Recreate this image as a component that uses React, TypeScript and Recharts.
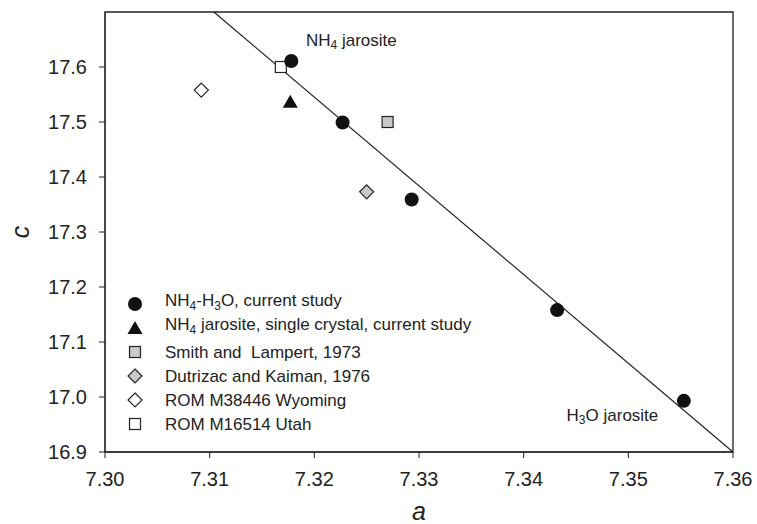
import React from "react";
import {
  ScatterChart,
  Scatter,
  XAxis,
  YAxis,
  ReferenceArea,
  ReferenceDot,
} from "recharts";

// lattice parameters (a, c in Å)
const nh4H3o = [
  { a: 7.3178, c: 17.611 },
  { a: 7.3227, c: 17.499 },
  { a: 7.3293, c: 17.359 },
  { a: 7.3432, c: 17.158 },
  { a: 7.3553, c: 16.993 },
];
const nh4Single = [{ a: 7.3177, c: 17.537 }];
const smithLampert = [{ a: 7.327, c: 17.5 }];
const dutrizacKaiman = [{ a: 7.325, c: 17.373 }];
const romWyoming = [{ a: 7.3092, c: 17.558 }];
const romUtah = [{ a: 7.3168, c: 17.6 }];
const fitLine = [
  { a: 7.3104, c: 17.7 },
  { a: 7.36, c: 16.9 },
];

const xTicks = [7.3, 7.31, 7.32, 7.33, 7.34, 7.35, 7.36];
const yTicks = [16.9, 17.0, 17.1, 17.2, 17.3, 17.4, 17.5, 17.6];

const FONT = '"Liberation Sans", Arial, sans-serif';
const INK = "#222";

type Kind = "circle" | "triangle" | "squareGray" | "diamondGray" | "diamond" | "square";

function Marker({ kind, cx, cy }: { kind: Kind; cx: number; cy: number }) {
  if (kind === "circle") return <circle cx={cx} cy={cy} r={7} fill="#111" />;
  if (kind === "triangle")
    return <polygon points={`${cx},${cy - 7} ${cx + 7.5},${cy + 6} ${cx - 7.5},${cy + 6}`} fill="#111" />;
  if (kind === "squareGray" || kind === "square")
    return (
      <rect x={cx - 5.5} y={cy - 5.5} width={11} height={11}
        fill={kind === "square" ? "#fff" : "#c8c8c8"} stroke={INK} strokeWidth={1.2} />
    );
  return (
    <polygon points={`${cx},${cy - 7} ${cx + 7},${cy} ${cx},${cy + 7} ${cx - 7},${cy}`}
      fill={kind === "diamond" ? "#fff" : "#c8c8c8"} stroke={INK} strokeWidth={1.2} />
  );
}

const legendRows: { kind: Kind; label: React.ReactNode }[] = [
  { kind: "circle", label: <>NH<sub style={{ fontSize: 12 }}>4</sub>-H<sub style={{ fontSize: 12 }}>3</sub>O, current study</> },
  { kind: "triangle", label: <>NH<sub style={{ fontSize: 12 }}>4</sub> jarosite, single crystal, current study</> },
  { kind: "squareGray", label: "Smith and  Lampert, 1973" },
  { kind: "diamondGray", label: "Dutrizac and Kaiman, 1976" },
  { kind: "diamond", label: "ROM M38446 Wyoming" },
  { kind: "square", label: "ROM M16514 Utah" },
];

function LegendBox() {
  return (
    <div style={{ position: "absolute", left: 125, top: 292, fontFamily: FONT, fontSize: 17, color: INK }}>
      {legendRows.map((r, i) => (
        <div key={i} style={{ display: "flex", alignItems: "center", height: 24, whiteSpace: "pre" }}>
          <svg width={20} height={20} style={{ marginRight: 20 }}>
            <Marker kind={r.kind} cx={10} cy={10} />
          </svg>
          <span style={{ lineHeight: "17px" }}>{r.label}</span>
        </div>
      ))}
    </div>
  );
}

const shapeOf = (kind: Kind) => (p: any) => <Marker kind={kind} cx={p.cx} cy={p.cy} />;

export default function App() {
  return (
    <div style={{ position: "absolute", left: 0, top: 0, width: 757, height: 524, background: "#fff" }}>
      <ScatterChart width={757} height={524} margin={{ top: 12, right: 24, bottom: 0, left: 0 }}>
        <XAxis
          type="number"
          dataKey="a"
          domain={[7.3, 7.36]}
          ticks={xTicks}
          tickFormatter={(v: number) => v.toFixed(2)}
          height={72}
          tickSize={6}
          tickMargin={14}
          stroke={INK}
          tick={{ fill: INK, fontSize: 20, fontFamily: FONT }}
          label={{ value: "a", position: "insideBottom", offset: 4, fill: INK, fontSize: 25, fontStyle: "italic", fontFamily: FONT }}
        />
        <YAxis
          type="number"
          dataKey="c"
          domain={[16.9, 17.7]}
          ticks={yTicks}
          tickFormatter={(v: number) => v.toFixed(1)}
          width={105}
          tickSize={6}
          tickMargin={12}
          stroke={INK}
          tick={{ fill: INK, fontSize: 20, fontFamily: FONT }}
          label={{
            content: (p: any) => (
              <text x={20} y={p.viewBox.y + p.viewBox.height / 2} transform={`rotate(-90 20 ${p.viewBox.y + p.viewBox.height / 2})`}
                textAnchor="middle" dominantBaseline="central" fill={INK} fontSize={25} fontStyle="italic" fontFamily={FONT}>
                c
              </text>
            ),
          }}
        />
        <ReferenceArea x1={7.3} x2={7.36} y1={16.9} y2={17.7} fill="none" stroke={INK} strokeWidth={1.3} />
        <Scatter data={fitLine} line={{ stroke: INK, strokeWidth: 1.2 }} shape={() => <g />} isAnimationActive={false} legendType="none" />
        <Scatter data={romWyoming} shape={shapeOf("diamond")} isAnimationActive={false} />
        <Scatter data={dutrizacKaiman} shape={shapeOf("diamondGray")} isAnimationActive={false} />
        <Scatter data={smithLampert} shape={shapeOf("squareGray")} isAnimationActive={false} />
        <Scatter data={romUtah} shape={shapeOf("square")} isAnimationActive={false} />
        <Scatter data={nh4Single} shape={shapeOf("triangle")} isAnimationActive={false} />
        <Scatter data={nh4H3o} shape={shapeOf("circle")} isAnimationActive={false} />
        <ReferenceDot
          x={7.3192}
          y={17.649}
          r={0}
          shape={(p: any) => (
            <text x={p.cx} y={p.cy} dominantBaseline="central" fill={INK} fontSize={17} fontFamily={FONT}>
              NH<tspan fontSize={12} dy={5}>4</tspan><tspan dy={-5}> jarosite</tspan>
            </text>
          )}
        />
        <ReferenceDot
          x={7.3441}
          y={16.967}
          r={0}
          shape={(p: any) => (
            <text x={p.cx} y={p.cy} dominantBaseline="central" fill={INK} fontSize={17} fontFamily={FONT}>
              H<tspan fontSize={12} dy={5}>3</tspan><tspan dy={-5}>O jarosite</tspan>
            </text>
          )}
        />
      </ScatterChart>
      <LegendBox />
    </div>
  );
}
